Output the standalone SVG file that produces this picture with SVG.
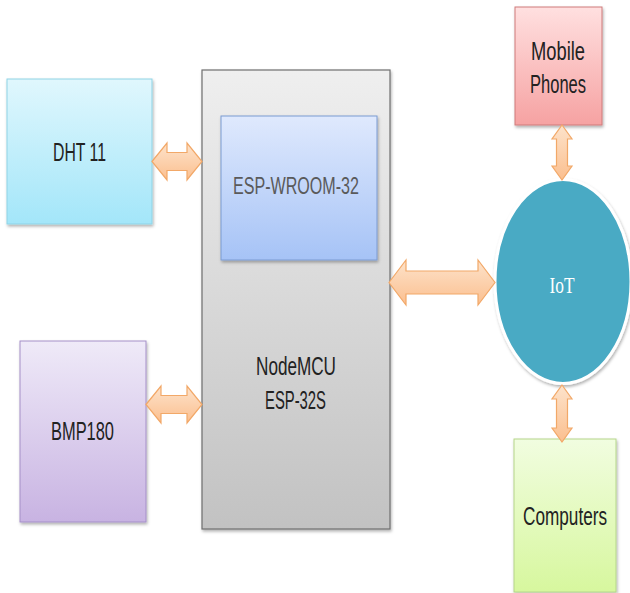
<svg xmlns="http://www.w3.org/2000/svg" width="630" height="593" viewBox="0 0 630 593">
<style>
.lbl{font-family:"Liberation Sans",Arial,sans-serif;font-size:25px;fill:#222;text-anchor:middle}
.conn path{fill:url(#gArrow);stroke:#f2a868;stroke-width:1.2;stroke-linejoin:miter}
</style>
<defs>
<linearGradient id="gBlue" x1="0" y1="0" x2="0" y2="1"><stop offset="0" stop-color="#e0f7fd"/><stop offset="1" stop-color="#a3e6f9"/></linearGradient>
<linearGradient id="gGray" x1="0" y1="0" x2="0" y2="1"><stop offset="0" stop-color="#efefef"/><stop offset="1" stop-color="#c2c2c2"/></linearGradient>
<linearGradient id="gEsp" x1="0" y1="0" x2="0" y2="1"><stop offset="0" stop-color="#dfe9fd"/><stop offset="1" stop-color="#a6c3f6"/></linearGradient>
<linearGradient id="gPurple" x1="0" y1="0" x2="0" y2="1"><stop offset="0" stop-color="#efeaf8"/><stop offset="1" stop-color="#c8b3e2"/></linearGradient>
<linearGradient id="gRed" x1="0" y1="0" x2="0" y2="1"><stop offset="0" stop-color="#ffe0e0"/><stop offset="1" stop-color="#f6a2a2"/></linearGradient>
<linearGradient id="gGreen" x1="0" y1="0" x2="0" y2="1"><stop offset="0" stop-color="#f1fde0"/><stop offset="1" stop-color="#d7f79e"/></linearGradient>
<linearGradient id="gArrow" x1="0" y1="0" x2="0" y2="1"><stop offset="0" stop-color="#fde3cb"/><stop offset="1" stop-color="#fbbf8f"/></linearGradient>
<filter id="sh" x="-10%" y="-10%" width="130%" height="130%"><feDropShadow dx="1" dy="2" stdDeviation="1.5" flood-color="#000" flood-opacity="0.3"/></filter>
</defs>
<rect width="630" height="593" fill="#fff"/>
<g id="dht11">
<rect x="7" y="79" width="145" height="145" fill="url(#gBlue)" stroke="#8fd3e6" stroke-width="1" filter="url(#sh)"/>
<text class="lbl" x="79.5" y="160.5" textLength="53" lengthAdjust="spacingAndGlyphs">DHT 11</text>
</g>
<g id="nodemcu">
<rect x="202" y="70" width="188" height="459" fill="url(#gGray)" stroke="#6f6f6f" stroke-width="1.2" filter="url(#sh)"/>
<text class="lbl" x="296" y="375" textLength="80" lengthAdjust="spacingAndGlyphs">NodeMCU</text>
<text class="lbl" x="295.5" y="409" textLength="61" lengthAdjust="spacingAndGlyphs">ESP-32S</text>
</g>
<g id="esp-wroom-32">
<rect x="221" y="116" width="156" height="144" fill="url(#gEsp)" stroke="#7b9bd2" stroke-width="1" filter="url(#sh)"/>
<text class="lbl" x="296" y="194" textLength="126" lengthAdjust="spacingAndGlyphs" style="fill:#5a5a5a;font-size:24px">ESP-WROOM-32</text>
</g>
<g id="bmp180">
<rect x="20" y="341" width="126" height="181" fill="url(#gPurple)" stroke="#a58fc8" stroke-width="1" filter="url(#sh)"/>
<text class="lbl" x="82.5" y="440" textLength="63" lengthAdjust="spacingAndGlyphs">BMP180</text>
</g>
<g id="mobile-phones">
<rect x="515" y="7" width="87" height="118" fill="url(#gRed)" stroke="#cf7b7b" stroke-width="1" filter="url(#sh)"/>
<text class="lbl" x="558" y="60" textLength="54" lengthAdjust="spacingAndGlyphs">Mobile</text>
<text class="lbl" x="558" y="93" textLength="56" lengthAdjust="spacingAndGlyphs">Phones</text>
</g>
<g id="iot">
<ellipse cx="563" cy="281.5" rx="68" ry="102" fill="#4aaac4" stroke="#ffffff" stroke-width="3" filter="url(#sh)"/>
<text x="562" y="293" text-anchor="middle" textLength="25" lengthAdjust="spacingAndGlyphs" style="font-family:'Liberation Serif','Times New Roman',serif;font-size:24px;fill:#fff">IoT</text>
</g>
<g id="computers">
<rect x="514" y="439" width="102" height="153" fill="url(#gGreen)" stroke="#b5d68a" stroke-width="1" filter="url(#sh)"/>
<text class="lbl" x="0" y="0" transform="translate(565,525) scale(1,1.2)" textLength="84" lengthAdjust="spacingAndGlyphs" style="font-size:21px">Computers</text>
</g>
<g id="connectors" class="conn">
<path d="M152,161.5 L167,143 L167,152.5 L187,152.5 L187,143 L202,161.5 L187,180 L187,170.5 L167,170.5 L167,180 Z"/>
<path d="M146,404.5 L161,386 L161,395.5 L187,395.5 L187,386 L202,404.5 L187,423 L187,413.5 L161,413.5 L161,423 Z"/>
<path d="M389,282.5 L406,260 L406,271 L478,271 L478,260 L495,282.5 L478,305 L478,294 L406,294 L406,305 Z"/>
<path d="M562,125 L572,139 L567.5,139 L567.5,166 L572,166 L562,180 L552,166 L556.5,166 L556.5,139 L552,139 Z"/>
<path d="M562,385 L572,399 L567.5,399 L567.5,428 L572,428 L562,442 L552,428 L556.5,428 L556.5,399 L552,399 Z"/>
</g>
</svg>
